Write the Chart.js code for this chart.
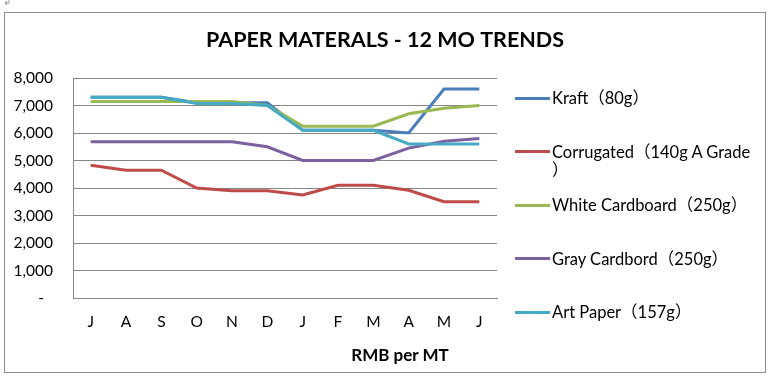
<!DOCTYPE html>
<html><head><meta charset="utf-8">
<script src="https://cdn.jsdelivr.net/npm/chart.js@4"></script>
<style>
html,body{margin:0;padding:0;background:#fff;}
body{width:770px;height:377px;position:relative;overflow:hidden;font-family:Lato,"Noto Sans CJK SC",sans-serif;color:#000;}
#frame{position:absolute;left:4px;top:12px;width:762px;height:361px;border:1px solid #8c8c8c;box-sizing:border-box;}
#wrap{position:absolute;left:5px;top:13px;width:760px;height:359px;}
#xt{position:absolute;left:300px;width:200px;top:345px;text-align:center;font-weight:bold;font-size:17px;line-height:20px;}
.li{position:absolute;left:515px;display:flex;align-items:flex-start;font-size:16.5px;line-height:18px;}
.li .sw{width:35px;height:3px;margin-top:7.5px;flex:none;}
.li .tx{margin-left:2px;white-space:pre;}
#mark{position:absolute;left:3px;top:-5px;font-size:10px;color:#999;}
</style></head>
<body>
<div id="mark">↲</div>
<div id="frame"></div>
<div id="wrap"><canvas id="c"></canvas></div>
<div id="xt">RMB per MT</div>
<div id="legend"></div>
<script>
const months = ['J','A','S','O','N','D','J','F','M','A','M','J'];
const seriesNames = ['Kraft（80g）','Corrugated（140g A Grade\n）','White Cardboard（250g）','Gray Cardbord（250g）','Art Paper（157g）'];
const kraft      = [7300,7300,7300,7100,7100,7100,6100,6100,6100,6000,7600,7600];
const corrugated = [4830,4650,4650,4000,3900,3900,3750,4100,4100,3920,3500,3500];
const whiteCard  = [7150,7150,7150,7150,7150,7000,6250,6250,6250,6700,6900,7000];
const grayCard   = [5680,5680,5680,5680,5680,5500,5000,5000,5000,5450,5700,5800];
const artPaper   = [7300,7300,7300,7070,7070,7000,6100,6100,6100,5600,5600,5600];
const yTicks = [0,1000,2000,3000,4000,5000,6000,7000,8000];

const colors = ['#4A7EBB','#BE4B48','#98B954','#7D60A0','#46AAC5'];
const allSeries = [kraft, corrugated, whiteCard, grayCard, artPaper];

const datasets = allSeries.map((d,i)=>({
  label: seriesNames[i],
  data: d,
  borderColor: colors[i],
  backgroundColor: colors[i],
  borderWidth: 3,
  pointRadius: 0,
  tension: 0,
  fill: false,
  order: allSeries.length - i
}));

const chart = new Chart(document.getElementById('c'), {
  type: 'line',
  data: { labels: months, datasets },
  options: {
    responsive: true,
    maintainAspectRatio: false,
    animation: false,
    layout: { padding: 0 },
    plugins: {
      legend: { display: false },
      tooltip: { enabled: false },
      title: {
        display: true,
        text: 'PAPER MATERALS - 12 MO TRENDS',
        color: '#000',
        font: { family: 'Lato', size: 21.5, weight: 'bold' },
        padding: { top: 14, bottom: 25.2 }
      }
    },
    scales: {
      x: {
        offset: true,
        grid: { display: false, drawTicks: false },
        border: { display: true, color: '#868686', width: 1 },
        ticks: { color: '#000', font: { family: 'Lato', size: 15.5 }, padding: 15, maxRotation: 0, autoSkip: false },
        afterFit(s) { s.height = 74; }
      },
      y: {
        min: 0, max: 8000,
        afterBuildTicks(s) { s.ticks = yTicks.map(v => ({ value: v })); },
        grid: { color: '#868686', drawTicks: false },
        border: { display: true, color: '#868686', width: 1 },
        ticks: {
          color: '#000', font: { family: 'Lato', size: 15.5 }, padding: 20,
          callback: v => v === 0 ? '-\u2007' : v.toLocaleString('en-US')
        },
        afterFit(s) { s.width = 68; }
      },
      legendSpace: {
        position: 'right',
        display: true,
        grid: { display: false, drawTicks: false },
        border: { display: false },
        ticks: { display: false },
        afterFit(s) { s.width = 268; }
      }
    }
  }
});

// HTML legend built from the chart's datasets
const legend = document.getElementById('legend');
const legendTop = 89;
const legendStep = 53.5;
chart.data.datasets.forEach((ds, i) => {
  const item = document.createElement('div');
  item.className = 'li';
  item.style.top = (legendTop + legendStep * i) + 'px';
  const sw = document.createElement('div');
  sw.className = 'sw';
  sw.style.background = ds.borderColor;
  const tx = document.createElement('div');
  tx.className = 'tx';
  tx.textContent = ds.label;
  item.appendChild(sw); item.appendChild(tx);
  legend.appendChild(item);
});
</script>
</body></html>
